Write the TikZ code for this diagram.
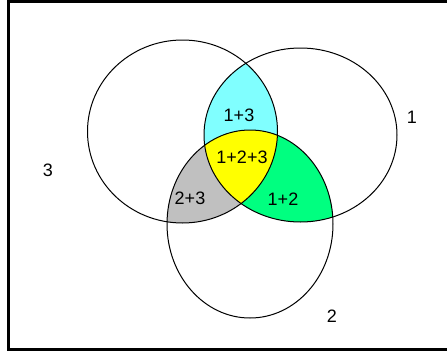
\documentclass[tikz,border=0pt]{standalone}
\usepackage{fontspec}
\setmainfont{Liberation Sans}
\usepackage{tikz}
\usetikzlibrary{positioning}
\definecolor{vncyan}{RGB}{128,255,255}
\definecolor{vnyellow}{RGB}{255,255,0}
\definecolor{vngreen}{RGB}{0,255,128}
\definecolor{vngray}{RGB}{192,192,192}

\def\setone{(300.5,135) ellipse [x radius=96.5, y radius=87]}
\def\settwo{(250,224) ellipse [x radius=83, y radius=94]}
\def\setthree{(182.5,131.5) ellipse [x radius=95, y radius=91.5]}

\begin{document}
\begin{tikzpicture}[
        x=1pt, y=-1pt,
        setline/.style={draw=black, line width=1pt},
        frame/.style={draw=black, line width=3pt},
        lbl/.style={font=\fontsize{18}{21}\selectfont, inner sep=0pt}
      ]
      \useasboundingbox (0,0) rectangle (447,356);

      % pairwise overlaps, then the middle
      \begin{scope}
        \clip \setone; \fill[vncyan] \setthree;
      \end{scope}
      \begin{scope}
        \clip \setone; \fill[vngreen] \settwo;
      \end{scope}
      \begin{scope}
        \clip \settwo; \fill[vngray] \setthree;
      \end{scope}
      \begin{scope}
        \clip \setone; \clip \settwo; \fill[vnyellow] \setthree;
      \end{scope}

      \draw[setline] \setone;
      \draw[setline] \settwo;
      \draw[setline] \setthree;

      \draw[frame] (452,1) -- (8,1) -- (8,349) -- (452,349);

      \node[lbl] (one) at (412,117) {1};
      \node[lbl] (two) at (332,316) {2};
      \node[lbl] (three) at (48,170) {3};
      \node[lbl] (c13) at (239,115) {1+3};
      \node[lbl] (c123) at (242,157) {1+2+3};
      \node[lbl] (c23) at (190,198) {2+3};
      \node[lbl] (c12) at (283,199) {1+2};
    \end{tikzpicture}
\end{document}
